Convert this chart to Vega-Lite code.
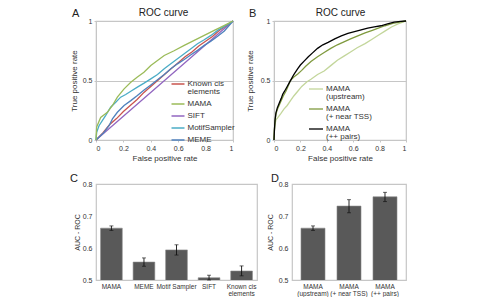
{
  "$schema": "https://vega.github.io/schema/vega-lite/v6.json",
  "background": "white",
  "padding": {"left": 69, "top": 6, "right": 0, "bottom": 0},
  "config": {
    "font": "Liberation Sans",
    "view": {"stroke": "#c6c6c6", "strokeWidth": 1.2},
    "axis": {
      "labelFont": "Liberation Sans", "titleFont": "Liberation Sans",
      "labelFontSize": 7, "labelColor": "#333333",
      "titleFontSize": 8, "titleFontWeight": "normal", "titleColor": "#333333",
      "domainColor": "#c6c6c6", "tickColor": "#c6c6c6", "tickSize": 2,
      "gridColor": "#c6c6c6", "gridWidth": 1.2, "labelPadding": 2, "labelLineHeight": 7, "labelOverlap": false
    },
    "legend": {"labelFont": "Liberation Sans", "labelColor": "#333333"},
    "style": {"guide-label": {"lineHeight": 8}},
    "title": {"font": "Liberation Sans", "fontWeight": "normal", "color": "#222222"}
  },
  "spacing": 9,
  "vconcat": [
    {
      "spacing": 41,
      "bounds": "flush",
      "resolve": {"scale": {"color": "independent", "strokeWidth": "independent"}, "legend": {"color": "independent", "strokeWidth": "independent"}},
      "hconcat": [
        {
          "width": 137, "height": 119,
          "title": {"text": "A", "anchor": "start", "frame": "group", "dx": -24, "dy": 12, "offset": 0, "fontSize": 11},
          "data": {"values": [
            {"method": "SIFT", "fpr": 0, "tpr": 0}, {"method": "SIFT", "fpr": 0.25, "tpr": 0.25}, {"method": "SIFT", "fpr": 0.5, "tpr": 0.5}, {"method": "SIFT", "fpr": 0.75, "tpr": 0.75}, {"method": "SIFT", "fpr": 1, "tpr": 1},
            {"method": "Known cis elements", "fpr": 0, "tpr": 0}, {"method": "Known cis elements", "fpr": 0.05, "tpr": 0.06}, {"method": "Known cis elements", "fpr": 0.1, "tpr": 0.13}, {"method": "Known cis elements", "fpr": 0.15, "tpr": 0.18}, {"method": "Known cis elements", "fpr": 0.2, "tpr": 0.24}, {"method": "Known cis elements", "fpr": 0.25, "tpr": 0.29}, {"method": "Known cis elements", "fpr": 0.3, "tpr": 0.34}, {"method": "Known cis elements", "fpr": 0.35, "tpr": 0.4}, {"method": "Known cis elements", "fpr": 0.4, "tpr": 0.45}, {"method": "Known cis elements", "fpr": 0.45, "tpr": 0.5}, {"method": "Known cis elements", "fpr": 0.5, "tpr": 0.55}, {"method": "Known cis elements", "fpr": 0.55, "tpr": 0.6}, {"method": "Known cis elements", "fpr": 0.6, "tpr": 0.65}, {"method": "Known cis elements", "fpr": 0.65, "tpr": 0.7}, {"method": "Known cis elements", "fpr": 0.7, "tpr": 0.74}, {"method": "Known cis elements", "fpr": 0.75, "tpr": 0.79}, {"method": "Known cis elements", "fpr": 0.8, "tpr": 0.83}, {"method": "Known cis elements", "fpr": 0.85, "tpr": 0.87}, {"method": "Known cis elements", "fpr": 0.9, "tpr": 0.92}, {"method": "Known cis elements", "fpr": 0.95, "tpr": 0.96}, {"method": "Known cis elements", "fpr": 1, "tpr": 1},
            {"method": "MEME", "fpr": 0, "tpr": 0}, {"method": "MEME", "fpr": 0.059, "tpr": 0.065}, {"method": "MEME", "fpr": 0.095, "tpr": 0.12}, {"method": "MEME", "fpr": 0.12, "tpr": 0.177}, {"method": "MEME", "fpr": 0.156, "tpr": 0.233}, {"method": "MEME", "fpr": 0.205, "tpr": 0.29}, {"method": "MEME", "fpr": 0.254, "tpr": 0.331}, {"method": "MEME", "fpr": 0.302, "tpr": 0.374}, {"method": "MEME", "fpr": 0.351, "tpr": 0.421}, {"method": "MEME", "fpr": 0.4, "tpr": 0.463}, {"method": "MEME", "fpr": 0.449, "tpr": 0.506}, {"method": "MEME", "fpr": 0.498, "tpr": 0.55}, {"method": "MEME", "fpr": 0.546, "tpr": 0.598}, {"method": "MEME", "fpr": 0.595, "tpr": 0.64}, {"method": "MEME", "fpr": 0.644, "tpr": 0.677}, {"method": "MEME", "fpr": 0.693, "tpr": 0.716}, {"method": "MEME", "fpr": 0.741, "tpr": 0.753}, {"method": "MEME", "fpr": 0.79, "tpr": 0.795}, {"method": "MEME", "fpr": 0.839, "tpr": 0.831}, {"method": "MEME", "fpr": 0.888, "tpr": 0.871}, {"method": "MEME", "fpr": 0.937, "tpr": 0.916}, {"method": "MEME", "fpr": 1, "tpr": 1},
            {"method": "MotifSampler", "fpr": 0, "tpr": 0}, {"method": "MotifSampler", "fpr": 0.005, "tpr": 0.065}, {"method": "MotifSampler", "fpr": 0.022, "tpr": 0.12}, {"method": "MotifSampler", "fpr": 0.046, "tpr": 0.163}, {"method": "MotifSampler", "fpr": 0.07, "tpr": 0.205}, {"method": "MotifSampler", "fpr": 0.107, "tpr": 0.275}, {"method": "MotifSampler", "fpr": 0.144, "tpr": 0.317}, {"method": "MotifSampler", "fpr": 0.18, "tpr": 0.36}, {"method": "MotifSampler", "fpr": 0.217, "tpr": 0.382}, {"method": "MotifSampler", "fpr": 0.254, "tpr": 0.41}, {"method": "MotifSampler", "fpr": 0.302, "tpr": 0.444}, {"method": "MotifSampler", "fpr": 0.351, "tpr": 0.478}, {"method": "MotifSampler", "fpr": 0.4, "tpr": 0.514}, {"method": "MotifSampler", "fpr": 0.449, "tpr": 0.55}, {"method": "MotifSampler", "fpr": 0.498, "tpr": 0.598}, {"method": "MotifSampler", "fpr": 0.546, "tpr": 0.64}, {"method": "MotifSampler", "fpr": 0.595, "tpr": 0.683}, {"method": "MotifSampler", "fpr": 0.644, "tpr": 0.725}, {"method": "MotifSampler", "fpr": 0.693, "tpr": 0.767}, {"method": "MotifSampler", "fpr": 0.741, "tpr": 0.809}, {"method": "MotifSampler", "fpr": 0.79, "tpr": 0.843}, {"method": "MotifSampler", "fpr": 0.839, "tpr": 0.879}, {"method": "MotifSampler", "fpr": 0.888, "tpr": 0.921}, {"method": "MotifSampler", "fpr": 0.937, "tpr": 0.955}, {"method": "MotifSampler", "fpr": 1, "tpr": 1},
            {"method": "MAMA", "fpr": 0, "tpr": 0}, {"method": "MAMA", "fpr": 0.005, "tpr": 0.11}, {"method": "MAMA", "fpr": 0.034, "tpr": 0.19}, {"method": "MAMA", "fpr": 0.083, "tpr": 0.233}, {"method": "MAMA", "fpr": 0.12, "tpr": 0.29}, {"method": "MAMA", "fpr": 0.156, "tpr": 0.36}, {"method": "MAMA", "fpr": 0.205, "tpr": 0.43}, {"method": "MAMA", "fpr": 0.254, "tpr": 0.486}, {"method": "MAMA", "fpr": 0.3, "tpr": 0.528}, {"method": "MAMA", "fpr": 0.35, "tpr": 0.57}, {"method": "MAMA", "fpr": 0.4, "tpr": 0.626}, {"method": "MAMA", "fpr": 0.449, "tpr": 0.668}, {"method": "MAMA", "fpr": 0.498, "tpr": 0.71}, {"method": "MAMA", "fpr": 0.57, "tpr": 0.75}, {"method": "MAMA", "fpr": 0.644, "tpr": 0.795}, {"method": "MAMA", "fpr": 0.717, "tpr": 0.837}, {"method": "MAMA", "fpr": 0.79, "tpr": 0.879}, {"method": "MAMA", "fpr": 0.863, "tpr": 0.921}, {"method": "MAMA", "fpr": 0.912, "tpr": 0.949}, {"method": "MAMA", "fpr": 1, "tpr": 1}
          ]},
          "layer": [
            {
              "transform": [{"filter": "datum.method == 'SIFT'"}],
              "mark": {"type": "line", "strokeWidth": 1.3},
              "encoding": {
                "x": {"field": "fpr", "type": "quantitative", "scale": {"domain": [0, 1]},
                      "axis": {"orient": "top", "title": "ROC curve", "labels": false, "ticks": false, "domain": false, "grid": false, "titleFontSize": 10, "titlePadding": 4, "titleColor": "#222222", "titleX": 67}},
                "y": {"field": "tpr", "type": "quantitative", "scale": {"domain": [0, 1]},
                      "axis": {"title": "True positive rate", "values": [0, 0.5, 1], "format": "~g", "grid": true, "titlePadding": 4}},
                "color": {"field": "method", "type": "nominal",
                          "scale": {"domain": ["Known cis elements", "MAMA", "SIFT", "MotifSampler", "MEME"], "range": ["#C9544E", "#9BBB59", "#9266C0", "#4BACC6", "#4F81BD"]},
                          "legend": {"orient": "none", "legendX": 74.5, "legendY": 55.5, "title": null, "symbolType": "stroke", "symbolSize": 169, "symbolStrokeWidth": 1.5, "labelFontSize": 8, "labelOffset": 2, "padding": 0, "rowPadding": -5,
                                     "labelExpr": "datum.label == 'Known cis elements' ? ['Known cis', 'elements'] : datum.label"}}
              }
            },
            {
              "transform": [{"filter": "datum.method != 'SIFT'"}],
              "mark": {"type": "line", "strokeWidth": 1.3},
              "encoding": {
                "x": {"field": "fpr", "type": "quantitative", "scale": {"domain": [0, 1]},
                      "axis": {"orient": "bottom", "title": "False positive rate", "values": [0, 0.2, 0.4, 0.6, 0.8, 1], "format": "~g", "grid": false, "titlePadding": 3}},
                "y": {"field": "tpr", "type": "quantitative"},
                "color": {"field": "method", "type": "nominal"}
              }
            }
          ],
          "resolve": {"axis": {"x": "independent"}}
        },
        {
          "width": 132, "height": 119,
          "title": {"text": "B", "anchor": "start", "frame": "group", "dx": -25, "dy": 12, "offset": 0, "fontSize": 11},
          "data": {"values": [
            {"variant": "MAMA (upstream)", "fpr": 0, "tpr": 0}, {"variant": "MAMA (upstream)", "fpr": 0.005, "tpr": 0.12}, {"variant": "MAMA (upstream)", "fpr": 0.015, "tpr": 0.17}, {"variant": "MAMA (upstream)", "fpr": 0.03, "tpr": 0.19}, {"variant": "MAMA (upstream)", "fpr": 0.05, "tpr": 0.22}, {"variant": "MAMA (upstream)", "fpr": 0.075, "tpr": 0.26}, {"variant": "MAMA (upstream)", "fpr": 0.1, "tpr": 0.29}, {"variant": "MAMA (upstream)", "fpr": 0.125, "tpr": 0.33}, {"variant": "MAMA (upstream)", "fpr": 0.15, "tpr": 0.37}, {"variant": "MAMA (upstream)", "fpr": 0.18, "tpr": 0.41}, {"variant": "MAMA (upstream)", "fpr": 0.21, "tpr": 0.45}, {"variant": "MAMA (upstream)", "fpr": 0.25, "tpr": 0.49}, {"variant": "MAMA (upstream)", "fpr": 0.28, "tpr": 0.51}, {"variant": "MAMA (upstream)", "fpr": 0.33, "tpr": 0.55}, {"variant": "MAMA (upstream)", "fpr": 0.38, "tpr": 0.58}, {"variant": "MAMA (upstream)", "fpr": 0.43, "tpr": 0.625}, {"variant": "MAMA (upstream)", "fpr": 0.48, "tpr": 0.67}, {"variant": "MAMA (upstream)", "fpr": 0.53, "tpr": 0.705}, {"variant": "MAMA (upstream)", "fpr": 0.58, "tpr": 0.74}, {"variant": "MAMA (upstream)", "fpr": 0.63, "tpr": 0.775}, {"variant": "MAMA (upstream)", "fpr": 0.69, "tpr": 0.81}, {"variant": "MAMA (upstream)", "fpr": 0.74, "tpr": 0.845}, {"variant": "MAMA (upstream)", "fpr": 0.79, "tpr": 0.88}, {"variant": "MAMA (upstream)", "fpr": 0.84, "tpr": 0.915}, {"variant": "MAMA (upstream)", "fpr": 0.89, "tpr": 0.95}, {"variant": "MAMA (upstream)", "fpr": 0.94, "tpr": 0.975}, {"variant": "MAMA (upstream)", "fpr": 1, "tpr": 1},
            {"variant": "MAMA (+ near TSS)", "fpr": 0, "tpr": 0}, {"variant": "MAMA (+ near TSS)", "fpr": 0.003, "tpr": 0.08}, {"variant": "MAMA (+ near TSS)", "fpr": 0.008, "tpr": 0.16}, {"variant": "MAMA (+ near TSS)", "fpr": 0.015, "tpr": 0.22}, {"variant": "MAMA (+ near TSS)", "fpr": 0.03, "tpr": 0.27}, {"variant": "MAMA (+ near TSS)", "fpr": 0.05, "tpr": 0.32}, {"variant": "MAMA (+ near TSS)", "fpr": 0.07, "tpr": 0.37}, {"variant": "MAMA (+ near TSS)", "fpr": 0.09, "tpr": 0.41}, {"variant": "MAMA (+ near TSS)", "fpr": 0.11, "tpr": 0.46}, {"variant": "MAMA (+ near TSS)", "fpr": 0.124, "tpr": 0.5}, {"variant": "MAMA (+ near TSS)", "fpr": 0.15, "tpr": 0.53}, {"variant": "MAMA (+ near TSS)", "fpr": 0.18, "tpr": 0.555}, {"variant": "MAMA (+ near TSS)", "fpr": 0.21, "tpr": 0.585}, {"variant": "MAMA (+ near TSS)", "fpr": 0.24, "tpr": 0.62}, {"variant": "MAMA (+ near TSS)", "fpr": 0.28, "tpr": 0.66}, {"variant": "MAMA (+ near TSS)", "fpr": 0.33, "tpr": 0.7}, {"variant": "MAMA (+ near TSS)", "fpr": 0.38, "tpr": 0.735}, {"variant": "MAMA (+ near TSS)", "fpr": 0.43, "tpr": 0.77}, {"variant": "MAMA (+ near TSS)", "fpr": 0.48, "tpr": 0.8}, {"variant": "MAMA (+ near TSS)", "fpr": 0.53, "tpr": 0.825}, {"variant": "MAMA (+ near TSS)", "fpr": 0.58, "tpr": 0.85}, {"variant": "MAMA (+ near TSS)", "fpr": 0.635, "tpr": 0.875}, {"variant": "MAMA (+ near TSS)", "fpr": 0.69, "tpr": 0.9}, {"variant": "MAMA (+ near TSS)", "fpr": 0.74, "tpr": 0.92}, {"variant": "MAMA (+ near TSS)", "fpr": 0.79, "tpr": 0.94}, {"variant": "MAMA (+ near TSS)", "fpr": 0.84, "tpr": 0.96}, {"variant": "MAMA (+ near TSS)", "fpr": 0.9, "tpr": 0.98}, {"variant": "MAMA (+ near TSS)", "fpr": 0.95, "tpr": 0.99}, {"variant": "MAMA (+ near TSS)", "fpr": 1, "tpr": 1},
            {"variant": "MAMA (++ pairs)", "fpr": 0, "tpr": 0}, {"variant": "MAMA (++ pairs)", "fpr": 0.003, "tpr": 0.08}, {"variant": "MAMA (++ pairs)", "fpr": 0.008, "tpr": 0.17}, {"variant": "MAMA (++ pairs)", "fpr": 0.015, "tpr": 0.23}, {"variant": "MAMA (++ pairs)", "fpr": 0.025, "tpr": 0.27}, {"variant": "MAMA (++ pairs)", "fpr": 0.04, "tpr": 0.31}, {"variant": "MAMA (++ pairs)", "fpr": 0.055, "tpr": 0.35}, {"variant": "MAMA (++ pairs)", "fpr": 0.066, "tpr": 0.385}, {"variant": "MAMA (++ pairs)", "fpr": 0.08, "tpr": 0.41}, {"variant": "MAMA (++ pairs)", "fpr": 0.1, "tpr": 0.45}, {"variant": "MAMA (++ pairs)", "fpr": 0.115, "tpr": 0.48}, {"variant": "MAMA (++ pairs)", "fpr": 0.13, "tpr": 0.51}, {"variant": "MAMA (++ pairs)", "fpr": 0.15, "tpr": 0.55}, {"variant": "MAMA (++ pairs)", "fpr": 0.18, "tpr": 0.6}, {"variant": "MAMA (++ pairs)", "fpr": 0.2, "tpr": 0.63}, {"variant": "MAMA (++ pairs)", "fpr": 0.23, "tpr": 0.665}, {"variant": "MAMA (++ pairs)", "fpr": 0.26, "tpr": 0.7}, {"variant": "MAMA (++ pairs)", "fpr": 0.29, "tpr": 0.73}, {"variant": "MAMA (++ pairs)", "fpr": 0.33, "tpr": 0.77}, {"variant": "MAMA (++ pairs)", "fpr": 0.37, "tpr": 0.8}, {"variant": "MAMA (++ pairs)", "fpr": 0.41, "tpr": 0.82}, {"variant": "MAMA (++ pairs)", "fpr": 0.46, "tpr": 0.85}, {"variant": "MAMA (++ pairs)", "fpr": 0.51, "tpr": 0.875}, {"variant": "MAMA (++ pairs)", "fpr": 0.56, "tpr": 0.895}, {"variant": "MAMA (++ pairs)", "fpr": 0.61, "tpr": 0.91}, {"variant": "MAMA (++ pairs)", "fpr": 0.66, "tpr": 0.925}, {"variant": "MAMA (++ pairs)", "fpr": 0.71, "tpr": 0.94}, {"variant": "MAMA (++ pairs)", "fpr": 0.76, "tpr": 0.95}, {"variant": "MAMA (++ pairs)", "fpr": 0.81, "tpr": 0.96}, {"variant": "MAMA (++ pairs)", "fpr": 0.86, "tpr": 0.975}, {"variant": "MAMA (++ pairs)", "fpr": 0.91, "tpr": 0.99}, {"variant": "MAMA (++ pairs)", "fpr": 0.96, "tpr": 0.997}, {"variant": "MAMA (++ pairs)", "fpr": 1, "tpr": 1}
          ]},
          "layer": [
            {
              "transform": [{"filter": "datum.variant != 'MAMA (++ pairs)'"}],
              "mark": {"type": "line"},
              "encoding": {
                "x": {"field": "fpr", "type": "quantitative", "scale": {"domain": [0, 1]},
                      "axis": {"orient": "top", "title": "ROC curve", "labels": false, "ticks": false, "domain": false, "grid": false, "titleFontSize": 10, "titlePadding": 4, "titleColor": "#222222"}},
                "y": {"field": "tpr", "type": "quantitative", "scale": {"domain": [0, 1]},
                      "axis": {"title": "True positive rate", "values": [0, 0.5, 1], "format": "~g", "grid": true, "titlePadding": 6}},
                "color": {"field": "variant", "type": "nominal",
                          "scale": {"domain": ["MAMA (upstream)", "MAMA (+ near TSS)", "MAMA (++ pairs)"], "range": ["#C3D69B", "#7F9A3E", "#000000"]},
                          "legend": {"orient": "none", "legendX": 34, "legendY": 60, "title": null, "symbolType": "stroke", "symbolSize": 196, "labelFontSize": 8, "labelOffset": 2, "padding": 0, "rowPadding": -3,
                                     "labelExpr": "[slice(datum.label, 0, 4), slice(datum.label, 5)]"}},
                "strokeWidth": {"field": "variant", "type": "nominal",
                                "scale": {"domain": ["MAMA (upstream)", "MAMA (+ near TSS)", "MAMA (++ pairs)"], "range": [1.3, 1.3, 2.6]},
                                "legend": {"orient": "none", "legendX": 34, "legendY": 60, "title": null, "symbolType": "stroke", "symbolSize": 196, "labelFontSize": 8, "labelOffset": 2, "padding": 0, "rowPadding": -3,
                                     "labelExpr": "[slice(datum.label, 0, 4), slice(datum.label, 5)]"}}
              }
            },
            {
              "transform": [{"filter": "datum.variant == 'MAMA (++ pairs)'"}],
              "mark": {"type": "line"},
              "encoding": {
                "x": {"field": "fpr", "type": "quantitative", "scale": {"domain": [0, 1]},
                      "axis": {"orient": "bottom", "title": "False positive rate", "values": [0, 0.2, 0.4, 0.6, 0.8, 1], "format": "~g", "grid": false, "titlePadding": 3}},
                "y": {"field": "tpr", "type": "quantitative"},
                "color": {"field": "variant", "type": "nominal"},
                "strokeWidth": {"field": "variant", "type": "nominal"}
              }
            }
          ],
          "resolve": {"axis": {"x": "independent"}}
        }
      ]
    },
    {
      "spacing": 35,
      "bounds": "flush",
      "hconcat": [
        {
          "width": 161, "height": 96,
          "title": {"text": "C", "anchor": "start", "frame": "group", "dx": -26, "dy": 4, "offset": 0, "fontSize": 11},
          "data": {"values": [
            {"method": "MAMA", "auc": 0.662, "lo": 0.655, "hi": 0.669},
            {"method": "MEME", "auc": 0.556, "lo": 0.543, "hi": 0.569},
            {"method": "Motif Sampler", "auc": 0.594, "lo": 0.578, "hi": 0.61},
            {"method": "SIFT", "auc": 0.507, "lo": 0.5, "hi": 0.515},
            {"method": "Known cis elements", "auc": 0.528, "lo": 0.513, "hi": 0.544}
          ]},
          "encoding": {
            "x": {"field": "method", "type": "nominal", "sort": null,
                  "scale": {"paddingInner": 0.333, "paddingOuter": 0.14},
                  "axis": {"title": null, "labelAngle": 0, "ticks": false, "domain": false, "labelFontSize": 6.5, "labelPadding": 3, "labelLimit": 200,
                           "labelExpr": "datum.label == 'Known cis elements' ? ['Known cis', 'elements'] : datum.label"}}
          },
          "layer": [
            {"mark": {"type": "bar", "color": "#595959", "stroke": "#8a8a8a", "strokeWidth": 0.6, "clip": true},
             "encoding": {"y": {"field": "auc", "type": "quantitative", "scale": {"domain": [0.5, 0.8], "zero": false, "nice": false},
                                "axis": {"title": "AUC - ROC", "titleFontSize": 7, "tickCount": 3, "format": ".1f", "ticks": false, "domain": false, "grid": false, "labelPadding": 4, "titlePadding": 2}}}},
            {"mark": {"type": "rule", "color": "#111111", "strokeWidth": 0.9},
             "encoding": {"y": {"field": "lo", "type": "quantitative", "axis": {"title": "AUC - ROC", "titleFontSize": 7, "tickCount": 3, "format": ".1f", "ticks": false, "domain": false, "grid": false, "labelPadding": 4, "titlePadding": 2}}, "y2": {"field": "hi"}}},
            {"mark": {"type": "tick", "color": "#111111", "size": 4, "thickness": 0.9},
             "encoding": {"y": {"field": "lo", "type": "quantitative", "axis": {"title": "AUC - ROC", "titleFontSize": 7, "tickCount": 3, "format": ".1f", "ticks": false, "domain": false, "grid": false, "labelPadding": 4, "titlePadding": 2}}}},
            {"mark": {"type": "tick", "color": "#111111", "size": 4, "thickness": 0.9},
             "encoding": {"y": {"field": "hi", "type": "quantitative", "axis": {"title": "AUC - ROC", "titleFontSize": 7, "tickCount": 3, "format": ".1f", "ticks": false, "domain": false, "grid": false, "labelPadding": 4, "titlePadding": 2}}}}
          ]
        },
        {
          "width": 114, "height": 96,
          "title": {"text": "D", "anchor": "start", "frame": "group", "dx": -21, "dy": 4, "offset": 0, "fontSize": 11},
          "data": {"values": [
            {"variant": "MAMA (upstream)", "auc": 0.662, "lo": 0.655, "hi": 0.669},
            {"variant": "MAMA (+ near TSS)", "auc": 0.731, "lo": 0.71, "hi": 0.751},
            {"variant": "MAMA (++ pairs)", "auc": 0.76, "lo": 0.745, "hi": 0.774}
          ]},
          "encoding": {
            "x": {"field": "variant", "type": "nominal", "sort": null,
                  "scale": {"paddingInner": 0.333, "paddingOuter": 0.25},
                  "axis": {"title": null, "labelAngle": 0, "ticks": false, "domain": false, "labelFontSize": 6.5, "labelPadding": 3, "labelLimit": 200,
                           "labelExpr": "[slice(datum.label, 0, 4), slice(datum.label, 5)]"}}
          },
          "layer": [
            {"mark": {"type": "bar", "color": "#595959", "stroke": "#8a8a8a", "strokeWidth": 0.6, "clip": true},
             "encoding": {"y": {"field": "auc", "type": "quantitative", "scale": {"domain": [0.5, 0.8], "zero": false, "nice": false},
                                "axis": {"title": "AUC - ROC", "titleFontSize": 7, "tickCount": 3, "format": ".1f", "ticks": false, "domain": false, "grid": false, "labelPadding": 4, "titlePadding": 5}}}},
            {"mark": {"type": "rule", "color": "#111111", "strokeWidth": 0.9},
             "encoding": {"y": {"field": "lo", "type": "quantitative", "axis": {"title": "AUC - ROC", "titleFontSize": 7, "tickCount": 3, "format": ".1f", "ticks": false, "domain": false, "grid": false, "labelPadding": 4, "titlePadding": 5}}, "y2": {"field": "hi"}}},
            {"mark": {"type": "tick", "color": "#111111", "size": 4, "thickness": 0.9},
             "encoding": {"y": {"field": "lo", "type": "quantitative", "axis": {"title": "AUC - ROC", "titleFontSize": 7, "tickCount": 3, "format": ".1f", "ticks": false, "domain": false, "grid": false, "labelPadding": 4, "titlePadding": 5}}}},
            {"mark": {"type": "tick", "color": "#111111", "size": 4, "thickness": 0.9},
             "encoding": {"y": {"field": "hi", "type": "quantitative", "axis": {"title": "AUC - ROC", "titleFontSize": 7, "tickCount": 3, "format": ".1f", "ticks": false, "domain": false, "grid": false, "labelPadding": 4, "titlePadding": 5}}}}
          ]
        }
      ]
    }
  ]
}
